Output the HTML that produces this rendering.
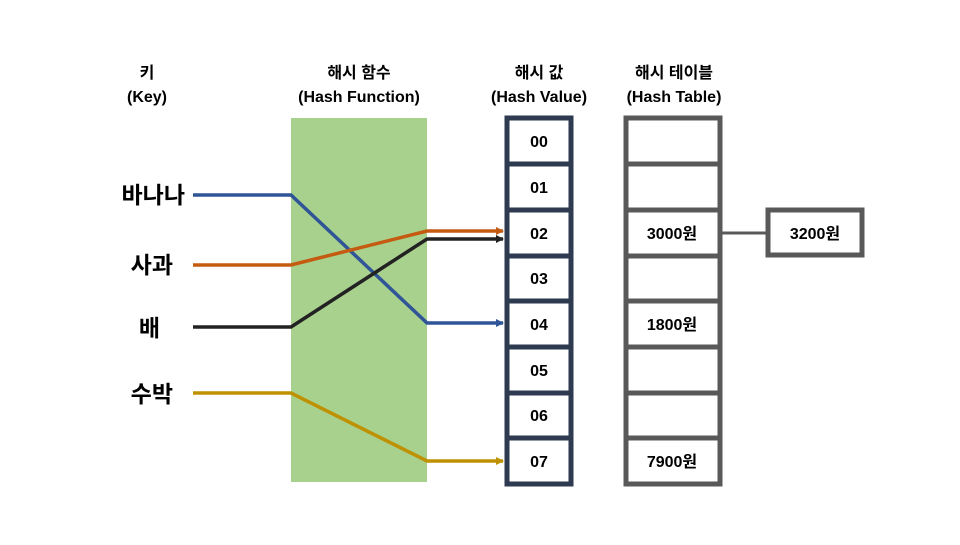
<!DOCTYPE html>
<html><head><meta charset="utf-8"><style>
body{margin:0;background:#fff;width:960px;height:540px;overflow:hidden}
svg text{font-family:"Liberation Sans","Noto Sans CJK KR",sans-serif;font-weight:bold;fill:#000}
</style></head><body>
<svg width="960" height="540" viewBox="0 0 960 540" xmlns="http://www.w3.org/2000/svg">
<defs>
<marker id="ab" markerWidth="8" markerHeight="8" refX="7" refY="4" orient="auto" markerUnits="userSpaceOnUse" viewBox="0 0 8 8"><path d="M0,0L8,4L0,8z" fill="#2f5597"/></marker>
<marker id="ao" markerWidth="8" markerHeight="8" refX="7" refY="4" orient="auto" markerUnits="userSpaceOnUse" viewBox="0 0 8 8"><path d="M0,0L8,4L0,8z" fill="#c55a11"/></marker>
<marker id="ak" markerWidth="8" markerHeight="8" refX="7" refY="4" orient="auto" markerUnits="userSpaceOnUse" viewBox="0 0 8 8"><path d="M0,0L8,4L0,8z" fill="#222"/></marker>
<marker id="ag" markerWidth="8" markerHeight="8" refX="7" refY="4" orient="auto" markerUnits="userSpaceOnUse" viewBox="0 0 8 8"><path d="M0,0L8,4L0,8z" fill="#bf9000"/></marker>
</defs>
<g font-size="16" text-anchor="middle">
<text x="147" y="78">키</text><text x="147" y="102">(Key)</text>
<text x="359" y="78">해시 함수</text><text x="359" y="102">(Hash Function)</text>
<text x="539" y="78">해시 값</text><text x="539" y="102">(Hash Value)</text>
<text x="674" y="78">해시 테이블</text><text x="674" y="102">(Hash Table)</text>
</g>
<rect x="291" y="118" width="136" height="364" fill="#a9d18e"/>
<g font-size="23" text-anchor="end">
<text x="185" y="203">바나나</text>
<text x="173" y="273">사과</text>
<text x="160" y="336">배</text>
<text x="173" y="402">수박</text>
</g>
<g fill="none" stroke-width="3.5">
<polyline points="193,195 291,195 427,323 503,323" stroke="#2f5597" marker-end="url(#ab)"/>
<polyline points="193,265 291,265 427,231 503,231" stroke="#c55a11" marker-end="url(#ao)"/>
<polyline points="193,327 291,327 427,239 503,239" stroke="#222" marker-end="url(#ak)"/>
<polyline points="193,393 291,393 427,461 503,461" stroke="#bf9000" marker-end="url(#ag)"/>
</g>
<g fill="#fff" stroke="#2e3a4f" stroke-width="5">
<rect x="507" y="118" width="64" height="366"/>
</g>
<g stroke="#2e3a4f" stroke-width="5">
<line x1="507" y1="164" x2="571" y2="164"/><line x1="507" y1="210" x2="571" y2="210"/>
<line x1="507" y1="256" x2="571" y2="256"/><line x1="507" y1="301" x2="571" y2="301"/>
<line x1="507" y1="347" x2="571" y2="347"/><line x1="507" y1="393" x2="571" y2="393"/>
<line x1="507" y1="438" x2="571" y2="438"/>
</g>
<g font-size="16" text-anchor="middle">
<text x="539" y="147">00</text><text x="539" y="193">01</text><text x="539" y="239">02</text>
<text x="539" y="284">03</text><text x="539" y="330">04</text><text x="539" y="376">05</text>
<text x="539" y="421">06</text><text x="539" y="467">07</text>
</g>
<rect x="626" y="118" width="94" height="366" fill="#fff" stroke="#595959" stroke-width="5"/>
<g stroke="#595959" stroke-width="5">
<line x1="626" y1="164" x2="720" y2="164"/><line x1="626" y1="210" x2="720" y2="210"/>
<line x1="626" y1="256" x2="720" y2="256"/><line x1="626" y1="301" x2="720" y2="301"/>
<line x1="626" y1="347" x2="720" y2="347"/><line x1="626" y1="393" x2="720" y2="393"/>
<line x1="626" y1="438" x2="720" y2="438"/>
<line x1="722" y1="233" x2="768" y2="233" stroke-width="3"/>
</g>
<rect x="768" y="210" width="94" height="45" fill="#fff" stroke="#595959" stroke-width="5"/>
<g font-size="16" text-anchor="middle">
<text x="672" y="239">3000원</text>
<text x="672" y="330">1800원</text>
<text x="672" y="467">7900원</text>
<text x="815" y="239">3200원</text>
</g>
</svg>
</body></html>
